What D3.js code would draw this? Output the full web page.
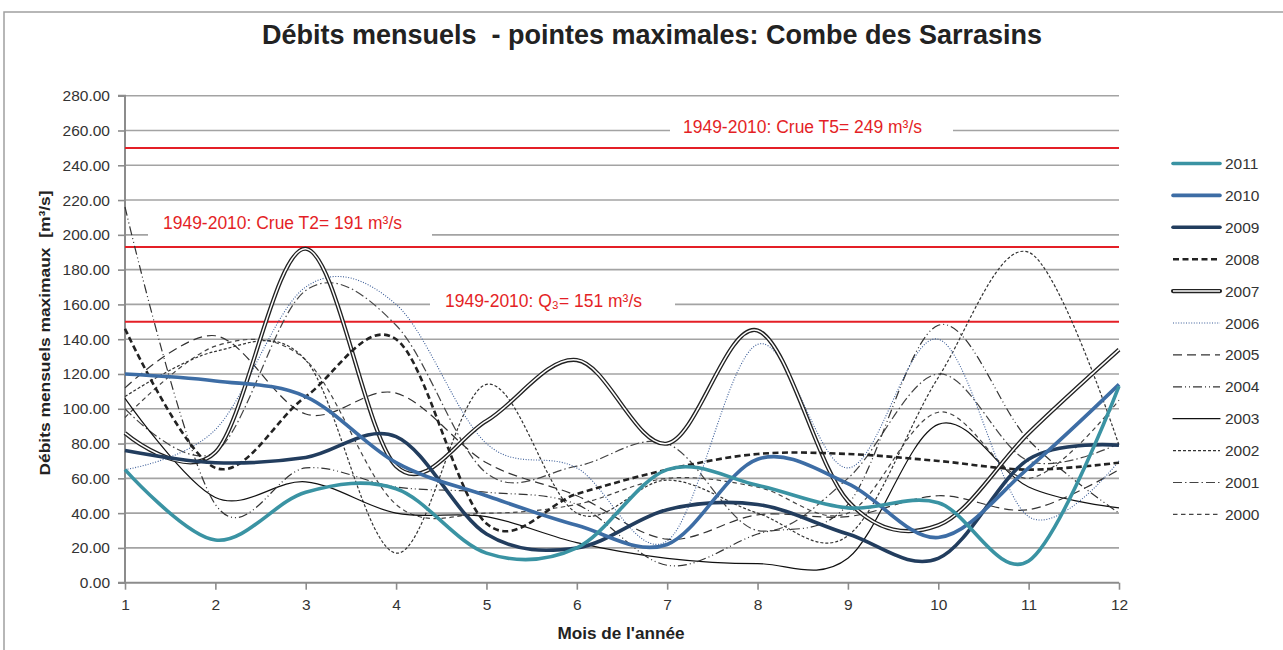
<!DOCTYPE html>
<html>
<head>
<meta charset="utf-8">
<script src="https://cdn.jsdelivr.net/npm/d3@7/dist/d3.min.js"></script>
<style>
  html, body { margin: 0; padding: 0; background: #fff; }
  svg { display: block; }
  text.pre { white-space: pre; }
</style>
</head>
<body>
<svg id="chart" width="1283" height="650"></svg>
<script>
// ---------------- DATA ----------------
const months = [1, 2, 3, 4, 5, 6, 7, 8, 9, 10, 11, 12];
const yTicks = [0, 20, 40, 60, 80, 100, 120, 140, 160, 180, 200, 220, 240, 260, 280];
const years = ["2011", "2010", "2009", "2008", "2007", "2006", "2005", "2004", "2003", "2002", "2001", "2000"];

const s2011 = [65, 24.5, 52, 54, 17, 20, 65, 56, 43, 46, 12.5, 113];
const s2010 = [120, 116, 107, 69, 50, 33, 22, 71, 57, 26, 66, 114];
const s2009 = [76, 69, 72, 84, 28, 20, 42, 45, 28, 14, 71, 79];
const s2008 = [146, 66, 107, 140, 34, 51, 65, 74, 74, 70, 65, 69];
const s2007 = [86, 75, 192, 67, 93, 128, 80, 145, 47, 33, 86, 134];
const s2006 = [65, 88, 170, 160, 80, 66, 24, 137, 66, 140, 38, 70];
const s2005 = [112, 142, 97, 109, 69, 50, 25, 39, 38, 50, 42, 65];
const s2004 = [216, 45, 66, 55, 52, 45, 10, 28, 45, 148, 82, 40];
const s2003 = [106, 49, 58, 40, 38, 23, 14, 11, 14, 91, 55, 43];
const s2002 = [107, 133, 128, 17, 114, 40, 59, 40, 27, 118, 190, 79];
const s2001 = [100, 75, 168, 148, 63, 67, 80, 30, 60, 120, 70, 80];
const s2000 = [95, 136, 128, 45, 40, 45, 60, 55, 40, 98, 60, 105];

const refValues = [250, 193, 150];
const refLabels = ["1949-2010: Crue T5= 249 m³/s", "1949-2010: Crue T2= 191 m³/s", "1949-2010: Q₃= 151 m³/s"];

const titleText = "Débits mensuels  - pointes maximales: Combe des Sarrasins";
const yTitle = "Débits mensuels maximaux  [m³/s]";
const xTitle = "Mois de l'année";

// ---------------- STYLES ----------------
const seriesData = [s2011, s2010, s2009, s2008, s2007, s2006, s2005, s2004, s2003, s2002, s2001, s2000];
const styles = [
  { color: "#3a93a3", width: 3.6, dash: null },
  { color: "#3d6da5", width: 3.6, dash: null },
  { color: "#223d5e", width: 3.6, dash: null },
  { color: "#222222", width: 2.6, dash: "6,3.5" },
  { color: "#222222", width: 4.2, dash: null, double: true },
  { color: "#3b5d98", width: 1.1, dash: "1,1.6" },
  { color: "#333333", width: 1.2, dash: "9,5" },
  { color: "#333333", width: 1.2, dash: "9,3,1,3,1,3" },
  { color: "#111111", width: 1.2, dash: null },
  { color: "#333333", width: 1.2, dash: "3,2" },
  { color: "#444444", width: 1.2, dash: "9,3,1.5,3" },
  { color: "#444444", width: 1.2, dash: "4.5,3.5" }
];

const FONT = "'Liberation Sans', Arial, sans-serif";
const FONT_N = "'Liberation Sans Narrow', 'Arial Narrow', 'Liberation Sans', sans-serif";

// ---------------- LAYOUT ----------------
const svg = d3.select("#chart");
const x = d3.scaleLinear().domain([1, 12]).range([125, 1119]);
const y = d3.scaleLinear().domain([0, 280]).range([582.7, 95.7]);

// outer frame
svg.append("path").attr("d", "M4,650 L4,12 L1283,12")
  .attr("fill", "none").attr("stroke", "#a0a0a0").attr("stroke-width", 1.5);

// title
svg.append("text").attr("class", "pre").attr("x", 652).attr("y", 44).attr("text-anchor", "middle")
  .attr("font-family", FONT_N).attr("font-weight", "bold").attr("font-size", 28)
  .attr("fill", "#222").attr("textLength", 780).attr("lengthAdjust", "spacingAndGlyphs")
  .text(titleText);

// gridlines
svg.append("g").selectAll("line").data(yTicks.filter(d => d > 0)).join("line")
  .attr("x1", x(1)).attr("x2", x(12))
  .attr("y1", d => y(d)).attr("y2", d => y(d))
  .attr("stroke", "#a3a3a3").attr("stroke-width", 1.6);

// y axis
const yAxis = d3.axisLeft(y).tickValues(yTicks).tickFormat(d3.format(".2f")).tickSize(7).tickPadding(8);
const gy = svg.append("g").attr("transform", `translate(${x(1)},0)`).call(yAxis);
gy.select(".domain").attr("stroke", "#8c8c8c").attr("stroke-width", 2).attr("d", `M-7,${y(280)}H0V${y(0)}H-7`);
gy.selectAll(".tick line").attr("stroke", "#8c8c8c").attr("stroke-width", 1.6);
gy.selectAll(".tick text").attr("font-family", FONT).attr("font-size", 15.5).attr("fill", "#333");

// x axis
const xAxis = d3.axisBottom(x).tickValues(months).tickFormat(d3.format("d")).tickSize(7).tickPadding(9);
const gx = svg.append("g").attr("transform", `translate(0,${y(0)})`).call(xAxis);
gx.select(".domain").attr("stroke", "#8c8c8c").attr("stroke-width", 2).attr("d", `M${x(1)},0H${x(12)}`);
gx.selectAll(".tick line").attr("stroke", "#8c8c8c").attr("stroke-width", 1.6);
gx.selectAll(".tick text").attr("font-family", FONT).attr("font-size", 15.5).attr("fill", "#333");

// reference red lines
svg.append("g").selectAll("line").data(refValues).join("line")
  .attr("x1", x(1)).attr("x2", x(12))
  .attr("y1", d => y(d)).attr("y2", d => y(d))
  .attr("stroke", "#e41f26").attr("stroke-width", 2);

// reference labels (white boxes hide the gridlines behind them)
const refBoxes = [
  { x0: 670, x1: 953, tx: 683, yv: 260, w: 239, dy: 2.5 },
  { x0: 148, x1: 432, tx: 163, yv: 200, w: 239, dy: -6 },
  { x0: 430, x1: 675, tx: 445, yv: 160, w: 197, dy: 3 }
];
refBoxes.forEach((b, i) => {
  svg.append("rect").attr("x", b.x0).attr("y", y(b.yv) - 16).attr("width", b.x1 - b.x0).attr("height", 22).attr("fill", "#fff");
  svg.append("text").attr("x", b.tx).attr("y", y(b.yv) + b.dy)
    .attr("font-family", FONT).attr("font-size", 17.5).attr("fill", "#e41f26")
    .attr("textLength", b.w).attr("lengthAdjust", "spacingAndGlyphs").text(refLabels[i]);
});

// series
const line = d3.line().x((d, i) => x(months[i])).y(d => y(d)).curve(d3.curveCardinal.tension(0));
const gs = svg.append("g");
const order = d3.range(years.length).reverse();
order.forEach(i => {
  const st = styles[i];
  const p = gs.append("path").datum(seriesData[i]).attr("d", line)
    .attr("fill", "none").attr("stroke", st.color).attr("stroke-width", st.width)
    .attr("stroke-linejoin", "round");
  if (st.dash) p.attr("stroke-dasharray", st.dash);
  if (st.double) {
    gs.append("path").datum(seriesData[i]).attr("d", line)
      .attr("fill", "none").attr("stroke", "#fff").attr("stroke-width", 1.5);
  }
});

// axis titles
svg.append("text").attr("class", "pre").attr("transform", `translate(50,${333}) rotate(-90)`).attr("text-anchor", "middle")
  .attr("font-family", FONT).attr("font-weight", "bold").attr("font-size", 15.5).attr("fill", "#222")
  .attr("textLength", 285).attr("lengthAdjust", "spacingAndGlyphs").text(yTitle);
svg.append("text").attr("x", 621).attr("y", 639).attr("text-anchor", "middle")
  .attr("font-family", FONT).attr("font-weight", "bold").attr("font-size", 16).attr("fill", "#222")
  .attr("textLength", 127).attr("lengthAdjust", "spacingAndGlyphs").text(xTitle);

// legend
const lg = svg.append("g");
years.forEach((yr, i) => {
  const ly = 163.5 + i * 31.9;
  const st = styles[i];
  const l = lg.append("line").attr("x1", 1173).attr("x2", 1220).attr("y1", ly).attr("y2", ly)
    .attr("stroke", st.color).attr("stroke-width", st.width);
  if (st.dash) l.attr("stroke-dasharray", st.dash);
  if (st.double) {
    l.attr("stroke-linecap", "round");
    lg.append("line").attr("x1", 1173).attr("x2", 1220).attr("y1", ly).attr("y2", ly)
      .attr("stroke", "#fff").attr("stroke-width", 1.5);
  } else if (!st.dash) {
    l.attr("stroke-linecap", "round");
  }
  lg.append("text").attr("x", 1225).attr("y", ly + 5.5)
    .attr("font-family", FONT).attr("font-size", 15.5).attr("fill", "#333").text(yr);
});
</script>
</body>
</html>
